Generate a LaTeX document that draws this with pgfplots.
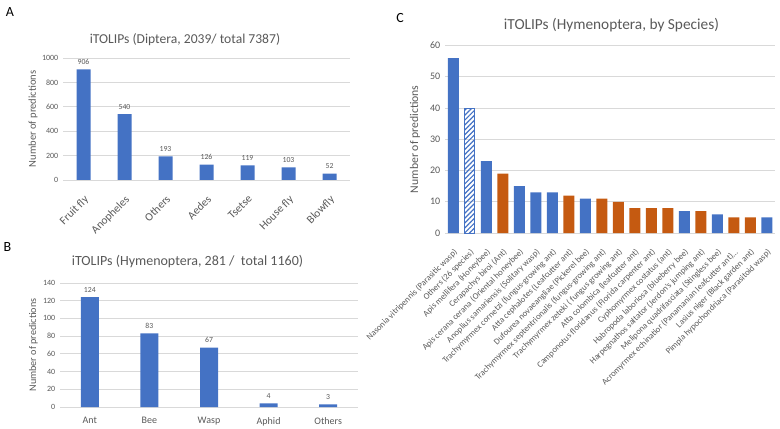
\documentclass[border=0pt]{standalone}
\usepackage{pgfplots}
\pgfplotsset{compat=1.18}
\usetikzlibrary{patterns.meta}
\usepackage{fontspec}
\setmainfont{Carlito}

\definecolor{barblue}{HTML}{4472C4}
\definecolor{barorange}{HTML}{C55A11}
\definecolor{txtgray}{HTML}{595959}
\definecolor{gridgray}{HTML}{D9D9D9}

\pgfplotsset{
  excel/.style={
    scale only axis,
    anchor=south west,
    ybar,
    ymin=0,
    axis line style={draw=none},
    tick style={draw=none},
    ymajorgrids,
    grid style={gridgray, line width=0.6pt},
    ticklabel style={text=txtgray},
    /pgf/number format/assume math mode=true,
    /pgf/number format/1000 sep={},
    label style={text=txtgray},
    y label style={at={(axis description cs:0,0.5)}, anchor=center},
    nodes near coords style={text=txtgray},
    clip=false,
  },
}

\begin{document}
\begin{tikzpicture}
\useasboundingbox (0,0) rectangle (585pt,321pt);

% panel letters and titles
\node[font=\fontsize{10.5}{12}\selectfont] at (7.5pt,312pt) {A};
\node[font=\fontsize{10.5}{12}\selectfont] at (5.5pt,135.75pt) {B};
\node[font=\fontsize{10.5}{12}\selectfont] at (300pt,307.5pt) {C};
\node[text=txtgray, font=\fontsize{10.2}{12}\selectfont] at (138.75pt,291pt) {iTOLIPs (Diptera, 2039/ total 7387)};
\node[text=txtgray, font=\fontsize{10.5}{12}\selectfont] at (140.6pt,124.5pt) {iTOLIPs (Hymenoptera, 281 /\ \ total 1160)};
\node[text=txtgray, font=\fontsize{11.5}{13}\selectfont] at (458.6pt,302.25pt) {iTOLIPs (Hymenoptera, by Species)};

% A: Diptera
\begin{axis}[excel, at={(47.25pt,186pt)}, width=215.25pt, height=91.5pt,
  xmin=-0.5, xmax=6.5, ymax=1000, ytick={0,200,...,1000},
  xtick={0,...,6},
  xticklabels={Fruit fly, Anopheles, Others, Aedes, Tsetse, House fly, Blowfly},
  xticklabel style={yshift=-5pt, rotate=45, anchor=north east, inner sep=1pt, font=\fontsize{8.5}{9}\selectfont},
  yticklabel style={font=\fontsize{6}{7}\selectfont},
  ylabel={Number of predictions},
  ylabel style={font=\fontsize{7.9}{9}\selectfont, yshift=22.5pt},
  nodes near coords, nodes near coords style={font=\fontsize{5.8}{6}\selectfont}]
\addplot[fill=barblue, draw=none, bar width=10.5pt, bar shift=0pt] coordinates {
  (0,906) (1,540) (2,193) (3,126) (4,119) (5,103) (6,52)};
\end{axis}

% B: Hymenoptera groups
\begin{axis}[excel, at={(45pt,15.75pt)}, width=223.5pt, height=93pt,
  xmin=-0.5, xmax=4.5, ymax=140, ytick={0,20,...,140},
  xtick={0,...,4},
  xticklabels={Ant, Bee, Wasp, Aphid, Others},
  xticklabel style={font=\fontsize{7.5}{9}\selectfont},
  yticklabel style={font=\fontsize{6}{7}\selectfont},
  ylabel={Number of predictions},
  ylabel style={font=\fontsize{7.6}{9}\selectfont, yshift=20pt},
  nodes near coords, nodes near coords style={font=\fontsize{5.8}{6}\selectfont}]
\addplot[fill=barblue, draw=none, bar width=13.5pt, bar shift=0pt] coordinates {
  (0,124) (1,83) (2,67) (3,4) (4,3)};
\end{axis}

% C: Hymenoptera by species
\begin{axis}[excel, at={(333.75pt,146.25pt)}, width=247.5pt, height=140.6pt,
  xmin=-0.5, xmax=19.5, ymax=60, ytick={0,10,...,60},
  xtick={0,...,19},
  xticklabels={
    Nasonia vitripennis (Parasitic wasp),
    Others (26 species),
    Apis mellifera (Honeybee),
    Cerapachys biroi (Ant),
    Apis cerana cerana (Oriental honeybee),
    Anoplius samariensis (Solitary wasp),
    Trachymyrmex cornetzi (fungus-growing ant),
    Atta cephalotes (Leafcutter ant),
    Dufourea novaeangliae (Pickerel bee),
    Trachymyrmex septentrionalis (fungus-growing ant),
    Trachymyrmex zeteki ( fungus growing ant),
    Atta colombica (leafcutter ant),
    Camponotus floridanus (Florida carpenter ant),
    Cyphomyrmex costatus (ant),
    Habropoda laboriosa (blueberry bee),
    Harpegnathos saltator (Jerdon's jumping ant),
    Melipona quadrifasciata (Stingless bee),
    {Acromyrmex echinatior (Panamanian leafcutter ant)\ldots},
    Lasius niger (Black garden ant),
    Pimpla hypochondriaca (Parasitoid wasp)},
  xticklabel style={yshift=-5.5pt, rotate=45, anchor=north east, inner sep=1pt, font=\fontsize{6.5}{7}\selectfont},
  yticklabel style={font=\fontsize{7.5}{8}\selectfont},
  ylabel={Number of predictions},
  ylabel style={font=\fontsize{8.8}{10}\selectfont, yshift=22.5pt}]
\addplot[fill=barblue, draw=none, bar width=8.25pt, bar shift=0pt] coordinates {
  (0,56) (2,23) (4,15) (5,13) (6,13) (8,11) (14,7) (16,6) (19,5)};
\addplot[draw=barblue, line width=0.6pt, bar width=7.6pt, bar shift=0pt,
  pattern={Lines[angle=45, distance=2.6pt, line width=0.9pt]}, pattern color=barblue] coordinates {
  (1,40)};
\addplot[fill=barorange, draw=none, bar width=8.25pt, bar shift=0pt] coordinates {
  (3,19) (7,12) (9,11) (10,10) (11,8) (12,8) (13,8) (15,7) (17,5) (18,5)};
\end{axis}
\end{tikzpicture}
\end{document}
